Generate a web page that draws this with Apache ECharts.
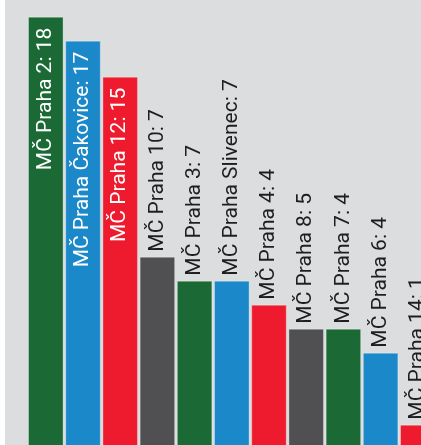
<!DOCTYPE html>
<html>
<head>
<meta charset="utf-8">
<script src="https://cdn.jsdelivr.net/npm/echarts@6/dist/echarts.min.js"></script>
<style>
html,body{margin:0;padding:0;background:#ffffff;overflow:hidden;}
#chart{position:absolute;left:5px;top:0;width:440px;height:449px;}
</style>
</head>
<body>
<div id="chart"></div>
<script>
const categories = ["MČ Praha 2","MČ Praha Čakovice","MČ Praha 12","MČ Praha 10","MČ Praha 3","MČ Praha Slivenec","MČ Praha 4","MČ Praha 8","MČ Praha 7","MČ Praha 6","MČ Praha 14"];
const barValues = [18, 17, 15.5, 8, 7, 7, 6, 5, 5, 4, 1];
const labelValues = [18, 17, 15, 7, 7, 7, 4, 5, 4, 4, 1];
const insideLabel = [true, true, true, false, false, false, false, false, false, false, false];
const palette = ["#1b6a36", "#1a88c9", "#ee1b2e", "#505052"];

const data = barValues.map((v, i) => ({
  value: v,
  itemStyle: { color: palette[i % palette.length] },
  label: insideLabel[i] ? {
    position: 'insideTop', distance: 11, align: 'right', verticalAlign: 'middle', color: '#ffffff'
  } : {
    position: 'top', distance: 5, align: 'left', verticalAlign: 'middle', color: '#1e1e1e'
  }
}));

const chart = echarts.init(document.getElementById('chart'));
chart.setOption({
  backgroundColor: '#dcdddf',
  animation: false,
  grid: { left: 22.2, top: 16.7, width: 409.2, height: 432, containLabel: false },
  xAxis: {
    type: 'category', data: categories,
    axisLine: { show: false }, axisTick: { show: false }, axisLabel: { show: false }, splitLine: { show: false }
  },
  yAxis: {
    type: 'value', min: 0, max: 18,
    axisLine: { show: false }, axisTick: { show: false }, axisLabel: { show: false }, splitLine: { show: false }
  },
  series: [{
    type: 'bar',
    data: data,
    barCategoryGap: '4.5%',
    itemStyle: { borderColor: 'rgba(255,255,255,0.3)', borderWidth: 1 },
    label: {
      show: true,
      rotate: 90,
      fontFamily: 'Roboto',
      fontSize: 21,
      formatter: p => categories[p.dataIndex] + ': ' + labelValues[p.dataIndex]
    }
  }]
});
</script>
</body>
</html>
